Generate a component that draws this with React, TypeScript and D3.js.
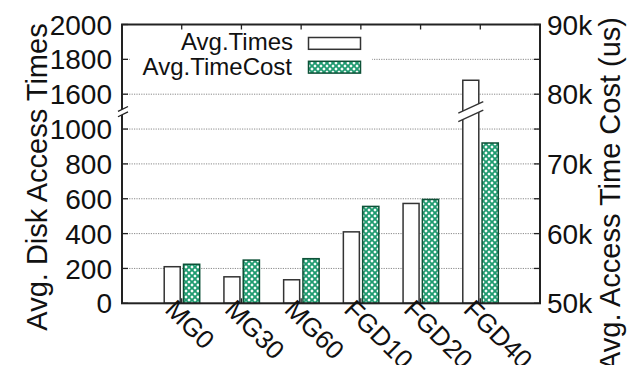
import React from "react";
import * as d3 from "d3";

const categories = ["MG0", "MG30", "MG60", "FGD10", "FGD20", "FGD40"];
const avgTimes = [210, 152, 135, 410, 573, 1680];
const avgTimeCost = [55600, 56200, 56400, 63900, 64900, 73000];
const leftTicks = [0, 200, 400, 600, 800, 1000, 1600, 1800, 2000];
const leftGrid = [200, 400, 600, 800, 1000, 1600, 1800];
const rightTicks = [50000, 60000, 70000, 80000, 90000];
const rightMinor = [55000, 65000, 75000, 85000];
const seriesNames = ["Avg.Times", "Avg.TimeCost"];

const W = 636, H = 365;
const L = 122, R = 540, T = 24.5, B = 303.3;
const U = (B - T) / 8;

export default function App() {
  const x = d3.scaleLinear().domain([-1, categories.length]).range([L, R]);
  const yL = d3.scaleLinear().domain([0, 1000, 1600, 2000]).range([B, B - 5 * U, B - 6 * U, T]);
  const yR = d3.scaleLinear().domain([50000, 90000]).range([B, T]);
  const font = "'Liberation Sans', Arial, Helvetica, sans-serif";
  const green = "#1f9b70";
  const greenDark = "#0e5238";
  const breakY = yL(1300);

  return (
    <svg width={W} height={H} style={{ position: "absolute", left: 0, top: 0, background: "#fff" }} fontFamily={font}>
      <defs>
        <pattern id="hatch" patternUnits="userSpaceOnUse" width={6} height={6}>
          <rect width={6} height={6} fill="#fff" />
          <path d="M-1,-1 L7,7 M7,-1 L-1,7 M-1,5 L1,7 M5,-1 L7,1 M5,7 L7,5 M-1,1 L1,-1" stroke={green} strokeWidth={1.9} />
        </pattern>
      </defs>
      {leftGrid.map((v) => (
        <line key={"g" + v} x1={L} x2={R} y1={yL(v)} y2={yL(v)} stroke="#8a8a8a" strokeWidth={1} strokeDasharray="1.2,1.2" />
      ))}
      <rect x={130} y={30} width={242} height={52} fill="#fff" />
      {categories.map((c, i) => {
        const cx = x(i);
        return (
          <g key={c}>
            <rect x={cx - 17.5} y={yL(avgTimes[i])} width={16} height={B - yL(avgTimes[i])} fill="#fff" stroke="#333" strokeWidth={1.5} />
            <rect x={cx + 1.8} y={yR(avgTimeCost[i])} width={16.2} height={B - yR(avgTimeCost[i])} fill="url(#hatch)" stroke={greenDark} strokeWidth={1.5} />
          </g>
        );
      })}
      {categories.map((c, i) => {
        if (avgTimes[i] <= 1000) return null;
        const mx = x(i) - 9.5;
        const hw = 12.5, dy = 5.8, gap = 4.2;
        return (
          <g key={"br" + c}>
            <polygon
              points={`${mx - hw},${breakY - gap + dy} ${mx + hw},${breakY - gap - dy} ${mx + hw},${breakY + gap - dy} ${mx - hw},${breakY + gap + dy}`}
              fill="#fff"
            />
            <line x1={mx - hw} y1={breakY - gap + dy} x2={mx + hw} y2={breakY - gap - dy} stroke="#333" strokeWidth={1.4} />
            <line x1={mx - hw} y1={breakY + gap + dy} x2={mx + hw} y2={breakY + gap - dy} stroke="#333" strokeWidth={1.4} />
          </g>
        );
      })}
      <rect x={L} y={T} width={R - L} height={B - T} fill="none" stroke="#222" strokeWidth={2} />
      {(() => {
        const mx = L + 1, hw = 5, dy = 2.4, gap = 2.7;
        return (
          <g>
            <polygon
              points={`${mx - hw},${breakY - gap + dy} ${mx + hw},${breakY - gap - dy} ${mx + hw},${breakY + gap - dy} ${mx - hw},${breakY + gap + dy}`}
              fill="#fff"
            />
            <line x1={mx - hw} y1={breakY - gap + dy} x2={mx + hw} y2={breakY - gap - dy} stroke="#222" strokeWidth={1.3} />
            <line x1={mx - hw} y1={breakY + gap + dy} x2={mx + hw} y2={breakY + gap - dy} stroke="#222" strokeWidth={1.3} />
          </g>
        );
      })()}
      {categories.map((c, i) => (
        <g key={"xt" + c}>
          <line x1={x(i)} x2={x(i)} y1={T} y2={T + 5} stroke="#222" strokeWidth={1.3} />
          <line x1={x(i)} x2={x(i)} y1={B} y2={B - 5} stroke="#222" strokeWidth={1.3} />
        </g>
      ))}
      {leftTicks.map((v) => (
        <g key={"lt" + v}>
          <line x1={L} x2={L + 6} y1={yL(v)} y2={yL(v)} stroke="#222" strokeWidth={1.3} />
          <text x={112} y={yL(v)} dy="0.36em" textAnchor="end" fontSize={28} fill="#111">{v}</text>
        </g>
      ))}
      {rightTicks.map((v) => (
        <g key={"rt" + v}>
          <line x1={R} x2={R - 6} y1={yR(v)} y2={yR(v)} stroke="#222" strokeWidth={1.3} />
          <text x={547} y={yR(v)} dy="0.36em" textAnchor="start" fontSize={28} fill="#111">{v / 1000 + "k"}</text>
        </g>
      ))}
      {rightMinor.map((v) => (
        <line key={"rm" + v} x1={R} x2={R - 6} y1={yR(v)} y2={yR(v)} stroke="#222" strokeWidth={1.3} />
      ))}
      {categories.map((c, i) => (
        <text key={"xl" + c} transform={`translate(${x(i) - 18},${311}) rotate(45)`} fontSize={26} fill="#111">{c}</text>
      ))}
      <text transform={`translate(46.5,177) rotate(-90)`} textAnchor="middle" fontSize={29} fill="#111">Avg. Disk Access Times</text>
      <text transform={`translate(620,194) rotate(-90)`} textAnchor="middle" fontSize={29} fill="#111">Avg. Access Time Cost (us)</text>
      <text x={293} y={50} textAnchor="end" fontSize={24} fill="#111">{seriesNames[0]}</text>
      <rect x={308.5} y={37.5} width={52} height={11.8} fill="#fff" stroke="#333" strokeWidth={1.5} />
      <text x={292} y={75} textAnchor="end" fontSize={24} fill="#111">{seriesNames[1]}</text>
      <rect x={308.5} y={61.3} width={52} height={11.8} fill="url(#hatch)" stroke={greenDark} strokeWidth={1.5} />
    </svg>
  );
}
